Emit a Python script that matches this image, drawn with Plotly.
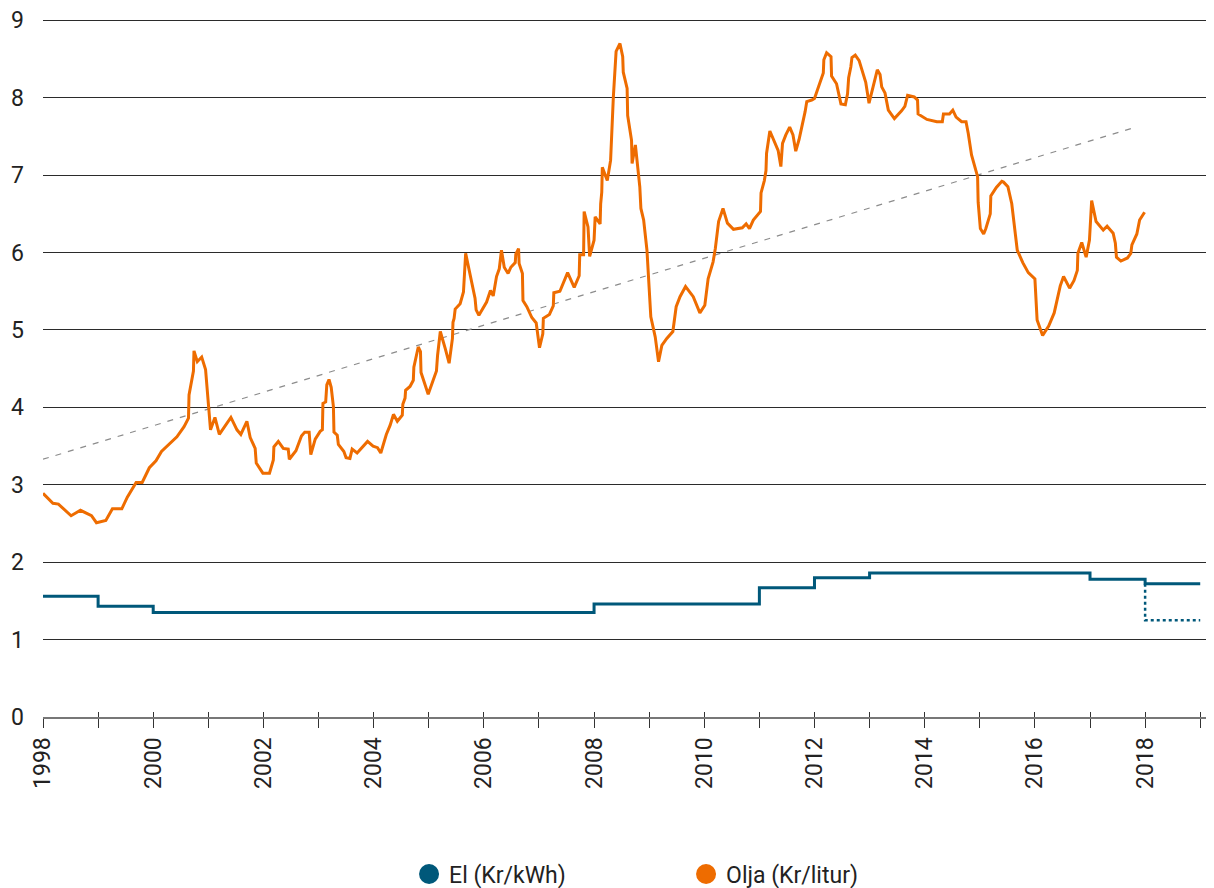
import plotly.graph_objects as go

# El price, steps per year (Kr/kWh)
el_years = [1998, 1999, 2000, 2008, 2011, 2012, 2013, 2017, 2018, 2019]
el_price = [1.56, 1.43, 1.35, 1.46, 1.67, 1.80, 1.86, 1.78, 1.72, 1.72]
# alternative 2018 level (dotted)
el_alt_years = [2018, 2019]
el_alt_price = [1.72, 1.25]

# Oil price (Kr/litur)
olja_x = [
    1998.00, 1998.18, 1998.28, 1998.51, 1998.68, 1998.88, 1998.97, 1999.14, 1999.26, 1999.43,
    1999.53, 1999.69, 1999.80, 1999.93, 2000.05, 2000.15, 2000.43, 2000.56, 2000.64, 2000.65,
    2000.73, 2000.74, 2000.80, 2000.88, 2000.95, 2001.04, 2001.12, 2001.20, 2001.41, 2001.52,
    2001.59, 2001.70, 2001.76, 2001.85, 2001.87, 2001.99, 2002.11, 2002.18, 2002.19, 2002.27,
    2002.36, 2002.45, 2002.47, 2002.59, 2002.69, 2002.75, 2002.83, 2002.86, 2002.94, 2003.03,
    2003.07, 2003.08, 2003.13, 2003.15, 2003.19, 2003.23, 2003.27, 2003.28, 2003.34, 2003.36,
    2003.46, 2003.50, 2003.57, 2003.61, 2003.70, 2003.89, 2003.99, 2004.07, 2004.13, 2004.23,
    2004.30, 2004.36, 2004.43, 2004.52, 2004.53, 2004.57, 2004.58, 2004.66, 2004.72, 2004.73,
    2004.81, 2004.85, 2004.86, 2004.99, 2005.08, 2005.14, 2005.16, 2005.21, 2005.30, 2005.37,
    2005.43, 2005.44, 2005.46, 2005.48, 2005.57, 2005.63, 2005.67, 2005.75, 2005.84, 2005.86,
    2005.91, 2006.05, 2006.12, 2006.17, 2006.23, 2006.28, 2006.32, 2006.37, 2006.44, 2006.49,
    2006.57, 2006.58, 2006.63, 2006.64, 2006.70, 2006.71, 2006.78, 2006.87, 2006.95, 2007.01,
    2007.07, 2007.08, 2007.19, 2007.26, 2007.27, 2007.38, 2007.52, 2007.64, 2007.73, 2007.74,
    2007.81, 2007.82, 2007.89, 2007.92, 2008.00, 2008.02, 2008.11, 2008.12, 2008.14, 2008.15,
    2008.24, 2008.30, 2008.35, 2008.40, 2008.47, 2008.52, 2008.53, 2008.60, 2008.61, 2008.68,
    2008.69, 2008.75, 2008.80, 2008.83, 2008.85, 2008.90, 2008.96, 2009.00, 2009.03, 2009.11,
    2009.17, 2009.23, 2009.32, 2009.43, 2009.49, 2009.56, 2009.66, 2009.80, 2009.92, 2010.01,
    2010.07, 2010.16, 2010.20, 2010.26, 2010.34, 2010.42, 2010.53, 2010.69, 2010.76, 2010.82,
    2010.89, 2011.02, 2011.03, 2011.09, 2011.12, 2011.13, 2011.19, 2011.34, 2011.39, 2011.42,
    2011.48, 2011.55, 2011.61, 2011.66, 2011.72, 2011.83, 2011.86, 2011.95, 2012.00, 2012.16,
    2012.17, 2012.22, 2012.30, 2012.31, 2012.40, 2012.48, 2012.56, 2012.60, 2012.62, 2012.66,
    2012.68, 2012.74, 2012.81, 2012.93, 2012.99, 2013.14, 2013.19, 2013.22, 2013.28, 2013.34,
    2013.45, 2013.58, 2013.64, 2013.69, 2013.81, 2013.87, 2013.88, 2014.04, 2014.22, 2014.32,
    2014.34, 2014.45, 2014.51, 2014.57, 2014.67, 2014.75, 2014.79, 2014.85, 2014.91, 2014.96,
    2014.97, 2015.00, 2015.01, 2015.07, 2015.11, 2015.19, 2015.20, 2015.30, 2015.40, 2015.43,
    2015.51, 2015.58, 2015.68, 2015.78, 2015.88, 2016.00, 2016.03, 2016.04, 2016.14, 2016.25,
    2016.35, 2016.40, 2016.46, 2016.52, 2016.63, 2016.71, 2016.77, 2016.78, 2016.85, 2016.93,
    2016.99, 2017.03, 2017.11, 2017.24, 2017.31, 2017.42, 2017.46, 2017.48, 2017.56, 2017.68,
    2017.74, 2017.76, 2017.85, 2017.90, 2017.99,
]
olja_y = [
    2.89, 2.76, 2.75, 2.60, 2.67, 2.60, 2.51, 2.54, 2.69, 2.69,
    2.84, 3.03, 3.03, 3.22, 3.31, 3.43, 3.62, 3.75, 3.86, 4.16,
    4.47, 4.73, 4.59, 4.65, 4.49, 3.71, 3.87, 3.65, 3.87, 3.71,
    3.65, 3.82, 3.61, 3.47, 3.28, 3.15, 3.15, 3.32, 3.49, 3.56,
    3.47, 3.46, 3.33, 3.44, 3.63, 3.68, 3.68, 3.39, 3.59, 3.69,
    3.71, 4.05, 4.07, 4.29, 4.36, 4.26, 4.01, 3.68, 3.64, 3.52,
    3.43, 3.35, 3.34, 3.46, 3.41, 3.56, 3.50, 3.48, 3.41, 3.65,
    3.77, 3.91, 3.82, 3.90, 4.04, 4.12, 4.22, 4.27, 4.35, 4.52,
    4.78, 4.72, 4.45, 4.17, 4.35, 4.47, 4.67, 4.98, 4.76, 4.57,
    4.89, 5.10, 5.15, 5.27, 5.34, 5.49, 5.99, 5.73, 5.41, 5.26,
    5.19, 5.36, 5.51, 5.44, 5.69, 5.79, 6.03, 5.81, 5.73, 5.81,
    5.87, 5.98, 6.05, 5.86, 5.73, 5.38, 5.30, 5.16, 5.09, 4.77,
    4.95, 5.15, 5.20, 5.31, 5.48, 5.50, 5.74, 5.55, 5.70, 5.97,
    5.97, 6.53, 6.33, 5.95, 6.16, 6.46, 6.37, 6.63, 6.78, 7.10,
    6.93, 7.19, 8.01, 8.60, 8.70, 8.53, 8.33, 8.12, 7.77, 7.45,
    7.15, 7.39, 7.02, 6.85, 6.57, 6.42, 6.03, 5.47, 5.17, 4.91,
    4.59, 4.80, 4.89, 4.98, 5.30, 5.43, 5.56, 5.43, 5.22, 5.32,
    5.66, 5.88, 6.05, 6.40, 6.57, 6.38, 6.30, 6.32, 6.37, 6.31,
    6.42, 6.53, 6.77, 6.93, 7.06, 7.28, 7.57, 7.32, 7.11, 7.41,
    7.52, 7.62, 7.52, 7.31, 7.46, 7.82, 7.95, 7.97, 7.99, 8.32,
    8.49, 8.58, 8.53, 8.28, 8.18, 7.92, 7.91, 8.05, 8.26, 8.40,
    8.52, 8.55, 8.48, 8.20, 7.93, 8.36, 8.30, 8.14, 8.06, 7.84,
    7.73, 7.83, 7.89, 8.03, 8.01, 7.97, 7.79, 7.72, 7.69, 7.69,
    7.79, 7.79, 7.84, 7.75, 7.69, 7.69, 7.54, 7.26, 7.11, 6.98,
    6.65, 6.46, 6.31, 6.24, 6.31, 6.50, 6.73, 6.84, 6.92, 6.91,
    6.85, 6.63, 6.03, 5.87, 5.74, 5.66, 5.30, 5.13, 4.93, 5.05,
    5.22, 5.38, 5.57, 5.69, 5.54, 5.64, 5.77, 5.99, 6.13, 5.94,
    6.16, 6.67, 6.40, 6.29, 6.34, 6.25, 6.12, 5.94, 5.89, 5.93,
    5.99, 6.10, 6.24, 6.42, 6.52,
]

# linear trend of oil price
trend_x = [1998.0, 2017.78]
trend_y = [3.33, 7.61]

year_ticks = list(range(1998, 2020))
year_labels = [str(y) if y % 2 == 0 and y < 2019 else "" for y in year_ticks]

BLUE = "#00587a"
ORANGE = "#ee6c00"
FONT = "Roboto"

fig = go.Figure()

fig.add_trace(go.Scatter(x=trend_x, y=trend_y, mode="lines", showlegend=False,
                         line=dict(color="#8c8c8c", width=1.2, dash="6px,7px")))
fig.add_trace(go.Scatter(x=el_years, y=el_price, mode="lines", line_shape="hv",
                         showlegend=False, line=dict(color=BLUE, width=3)))
fig.add_trace(go.Scatter(x=el_alt_years, y=el_alt_price, mode="lines", line_shape="vh",
                         showlegend=False, line=dict(color=BLUE, width=2.5, dash="dot")))
fig.add_trace(go.Scatter(x=olja_x, y=olja_y, mode="lines", showlegend=False,
                         line=dict(color=ORANGE, width=3)))

# legend entries as dots
fig.add_trace(go.Scatter(x=[None], y=[None], mode="markers", name="El (Kr/kWh)",
                         marker=dict(color=BLUE, size=22, line=dict(color=BLUE, width=4))))
fig.add_trace(go.Scatter(x=[None], y=[None], mode="markers", name="Olja (Kr/litur)",
                         marker=dict(color=ORANGE, size=22, line=dict(color=ORANGE, width=4))))

# invisible trace so the overlay axis (upward tick halves) gets drawn
fig.add_trace(go.Scatter(x=[1998, 2019], y=[None, None], xaxis="x2", mode="lines",
                         showlegend=False, hoverinfo="skip"))

# page body keeps its 8px default margin; margins are set with that in mind
x_range = [1998, 2019.25]

fig.update_layout(
    width=1206, height=888,
    margin=dict(l=35, r=0, t=10, b=179),
    plot_bgcolor="white", paper_bgcolor="white",
    font=dict(family=FONT, size=22, color="#222"),
    xaxis=dict(range=x_range, tickmode="array", tickvals=year_ticks, ticktext=year_labels,
               tickangle=-90, ticks="outside", ticklen=9, tickwidth=1, tickcolor="#333",
               showgrid=False, zeroline=False, showline=True, linecolor="#777", linewidth=2,
               tickfont=dict(size=23, color="#222"), automargin=False),
    xaxis2=dict(range=x_range, overlaying="x", anchor="y", side="bottom",
                tickmode="array", tickvals=year_ticks, showticklabels=False,
                ticks="inside", ticklen=5, tickwidth=1, tickcolor="#333",
                showgrid=False, zeroline=False, showline=False, automargin=False),
    yaxis=dict(range=[0, 9.03], tickvals=list(range(0, 10)), showgrid=True,
               gridcolor="#2b2b2b", gridwidth=1, zeroline=False, showline=False,
               ticks="", ticklabelstandoff=18, ticklabeloverflow="allow",
               tickfont=dict(size=23, color="#222"), automargin=False),
    legend=dict(orientation="h", x=0.3126, xanchor="left", y=-0.2554, yanchor="bottom",
                font=dict(size=23, color="#222"), entrywidth=232, itemsizing="trace"),
    showlegend=True,
)

fig.write_html("out.html")
